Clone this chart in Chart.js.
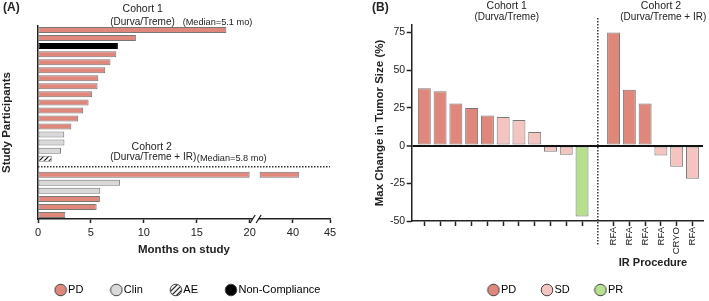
<!DOCTYPE html>
<html>
<head>
<meta charset="utf-8">
<script src="https://cdn.jsdelivr.net/npm/chart.js@4.4.0/dist/chart.umd.min.js"></script>
<style>
  html, body { margin: 0; padding: 0; background: #fff; overflow: hidden; }
  #wrapA { position: absolute; left: 0; top: 0; width: 340px; height: 301px; }
  #wrapB { position: absolute; left: 340px; top: 0; width: 369px; height: 301px; }
</style>
</head>
<body>
<div id="wrapA"><canvas id="chartA" width="340" height="301"></canvas></div>
<div id="wrapB"><canvas id="chartB" width="369" height="301"></canvas></div>
<script>
// ---- Panel A data: months on study, reason off study ----
const cohort1Months = [17.8, 9.25, 7.55, 7.4, 6.85, 6.35, 5.7, 5.63, 5.12, 4.78, 4.27, 3.8, 3.15, 2.48, 2.5, 2.17, 1.3];
const cohort1Reason = ['PD', 'PD', 'Non-Compliance', 'PD', 'PD', 'PD', 'PD', 'PD', 'PD', 'PD', 'PD', 'PD', 'PD', 'Clin', 'Clin', 'Clin', 'AE'];
const cohort2Months = [40.8, 7.74, 5.88, 5.85, 5.54, 2.58];
const cohort2Reason = ['PD', 'Clin', 'Clin', 'PD', 'PD', 'PD'];
const reasonNames = ['PD', 'Clin', 'AE', 'Non-Compliance'];
const monthTicks = [0, 5, 10, 15, 20, 40, 45];

// ---- Panel B data: max change in tumor size ----
const changeCohort1 = [38, 36, 28, 25, 20, 19, 17, 9, -4, -6, -47];
const responseCohort1 = ['PD', 'PD', 'PD', 'PD', 'PD', 'SD', 'SD', 'SD', 'SD', 'SD', 'PR'];
const changeCohort2 = [75, 37, 28, -6.5, -14, -22];
const responseCohort2 = ['PD', 'PD', 'PD', 'SD', 'SD', 'SD'];
const irProcedure = ['RFA', 'RFA', 'RFA', 'RFA', 'CRYO', 'RFA'];
const responseNames = ['PD', 'SD', 'PR'];
const changeTicks = [-50, -25, 0, 25, 50, 75];

const FONT = '"Liberation Sans", Arial, Helvetica, sans-serif';
Chart.defaults.font.family = FONT;
Chart.defaults.color = '#222';

const PD_RED = '#e0877c';
const BORDER = '#777';

// diagonal hatch for AE
const hatch = (() => {
    const c = document.createElement('canvas');
    c.width = 5; c.height = 5;
    const g = c.getContext('2d');
    g.fillStyle = '#fff';
    g.fillRect(0, 0, 5, 5);
    g.strokeStyle = '#111';
    g.lineWidth = 1.2;
    g.beginPath();
    g.moveTo(0, 5); g.lineTo(5, 0);
    g.moveTo(-1, 1); g.lineTo(1, -1);
    g.moveTo(4, 6); g.lineTo(6, 4);
    g.stroke();
    return g.createPattern(c, 'repeat');
})();

const reasonFill = { 'PD': PD_RED, 'Clin': '#d9d9d9', 'AE': hatch, 'Non-Compliance': '#000' };
const responseFill = { 'PD': PD_RED, 'SD': '#f4c4c1', 'PR': '#b6df8e' };

function legendDot(fill) {
    const c = document.createElement('canvas');
    c.width = 14; c.height = 14;
    const g = c.getContext('2d');
    g.beginPath();
    g.arc(7, 7, 5.8, 0, Math.PI * 2);
    g.fillStyle = fill;
    g.fill();
    g.lineWidth = 1;
    g.strokeStyle = '#444';
    g.stroke();
    return c;
}

// broken x axis: 0-20 at full scale, then 35.5-45 compressed
const breakAt = 20, resumeAt = 35.5, gapWidth = 0.94, upperScale = 0.7;
function toAxis(m) {
    return m <= breakAt ? m : breakAt + gapWidth + (m - resumeAt) * upperScale;
}

function text(ctx, str, x, y, size, bold, align) {
    ctx.save();
    ctx.font = (bold ? 'bold ' : '') + size + 'px ' + FONT;
    ctx.fillStyle = '#222';
    ctx.textAlign = align || 'center';
    ctx.textBaseline = 'middle';
    ctx.fillText(str, x, y);
    ctx.restore();
}

// legend A centred a bit right of the plot, room kept for the last item
const legendShift = {
    id: 'legendShift',
    afterLayout(chart) {
        const lg = chart.legend;
        if (!lg) return;
        lg.left = 10;
        lg.right = 369;
    }
};

// ================= Panel A =================
const rowMonths = [...cohort1Months, null, ...cohort2Months];
const rowReason = [...cohort1Reason, null, ...cohort2Reason];
const gapRow = cohort1Months.length;

const datasetsA = reasonNames.map(r => ({
    label: r,
    data: rowMonths.map((m, i) => rowReason[i] === r ? [0, toAxis(Math.min(m, breakAt))] : null),
    backgroundColor: reasonFill[r],
    borderColor: r === 'Non-Compliance' ? '#000' : BORDER,
    borderWidth: 1
}));
datasetsA.push({
    label: 'continued',
    data: rowMonths.map(m => m > breakAt ? [toAxis(resumeAt), toAxis(m)] : null),
    backgroundColor: rowReason.map(r => r ? reasonFill[r] : null),
    borderColor: BORDER,
    borderWidth: 1
});

const panelADecor = {
    id: 'panelADecor',
    afterDraw(chart) {
        const ctx = chart.ctx;
        const x = chart.scales.x, y = chart.scales.y;
        const area = chart.chartArea;
        // cohort separator
        ctx.save();
        ctx.strokeStyle = '#333';
        ctx.lineWidth = 1.5;
        ctx.setLineDash([1.5, 1.5]);
        const ySep = y.getPixelForValue(gapRow);
        ctx.beginPath();
        ctx.moveTo(area.left, ySep);
        ctx.lineTo(area.right, ySep);
        ctx.stroke();
        ctx.restore();
        // axis break
        const xa = x.getPixelForValue(breakAt) + 3;
        const xb = x.getPixelForValue(toAxis(resumeAt)) - 1;
        const yb = area.bottom;
        ctx.save();
        ctx.fillStyle = '#fff';
        ctx.fillRect(xa, yb - 2, xb - xa, 4);
        ctx.strokeStyle = '#222';
        ctx.lineWidth = 1.3;
        ctx.beginPath();
        [xa, xb].forEach(cx => {
            ctx.moveTo(cx - 2.5, yb + 4);
            ctx.lineTo(cx + 2.5, yb - 4);
        });
        ctx.stroke();
        ctx.restore();
        // labels
        text(ctx, '(A)', 3, 8, 12, true, 'left');
        text(ctx, 'Cohort 1', 142.7, 9, 10.5);
        text(ctx, '(Durva/Treme)', 142.5, 22, 10);
        text(ctx, '(Median=5.1 mo)', 217.5, 22.5, 9.2);
        text(ctx, 'Cohort 2', 151.7, 146.7, 10.5);
        text(ctx, '(Durva/Treme + IR)', 153.3, 157.5, 10);
        text(ctx, '(Median=5.8 mo)', 231.7, 158.5, 9.2);
    }
};

new Chart(document.getElementById('chartA'), {
    type: 'bar',
    data: { labels: rowMonths.map(() => ''), datasets: datasetsA },
    options: {
        indexAxis: 'y',
        responsive: false,
        animation: false,
        layout: { padding: { top: 26, right: 10, bottom: -4.5, left: 0 } },
        datasets: { bar: { grouped: false, barPercentage: 0.75, categoryPercentage: 1, borderSkipped: false } },
        plugins: {
            tooltip: { enabled: false },
            legend: {
                position: 'bottom',
                labels: {
                    usePointStyle: true,
                    boxWidth: 4,
                    padding: 31,
                    color: '#222',
                    font: { size: 11 },
                    generateLabels: () => reasonNames.map((r, i) => ({
                        text: r, pointStyle: legendDot(reasonFill[r]), fillStyle: reasonFill[r],
                        strokeStyle: '#444', lineWidth: 1, hidden: false, datasetIndex: i
                    }))
                }
            }
        },
        scales: {
            x: {
                type: 'linear',
                min: 0,
                max: toAxis(45),
                afterBuildTicks: axis => { axis.ticks = monthTicks.map(m => ({ value: toAxis(m) })); },
                afterFit: axis => { axis.height = 34.5; },
                ticks: { autoSkip: false, maxRotation: 0, padding: 3, font: { size: 11 }, callback: (v, i) => monthTicks[i] },
                grid: { drawOnChartArea: false, tickLength: 4, tickColor: '#222', tickWidth: 1.5 },
                border: { color: '#222', width: 1.5 },
                title: { display: true, text: 'Months on study', font: { size: 11.5, weight: 'bold' }, padding: { top: 0, bottom: -3.4 } }
            },
            y: {
                type: 'category',
                afterFit: axis => { axis.width = 38; },
                ticks: { display: false },
                grid: { drawOnChartArea: false, drawTicks: false },
                border: { color: '#222', width: 1.5 },
                title: { display: true, text: 'Study Participants', font: { size: 11.5, weight: 'bold' }, padding: { top: 0, bottom: 0 } }
            }
        }
    },
    plugins: [panelADecor, legendShift]
});

// ================= Panel B =================
const changes = [...changeCohort1, ...changeCohort2];
const responses = [...responseCohort1, ...responseCohort2];
const barPos = [...changeCohort1.map((_, i) => i), ...changeCohort2.map((_, i) => changeCohort1.length + 1 + i)];
const barLabels = [...changeCohort1.map(() => ''), ...irProcedure];
const gapPos = changeCohort1.length;
const cohort2Mid = (barPos[changeCohort1.length] + barPos[barPos.length - 1]) / 2;

const panelBDecor = {
    id: 'panelBDecor',
    afterDraw(chart) {
        const ctx = chart.ctx;
        const x = chart.scales.x;
        const area = chart.chartArea;
        const xSep = x.getPixelForValue(gapPos);
        ctx.save();
        ctx.strokeStyle = '#333';
        ctx.lineWidth = 1.5;
        ctx.setLineDash([1.5, 1.5]);
        ctx.beginPath();
        ctx.moveTo(xSep, area.top - 7);
        ctx.lineTo(xSep, area.bottom + 24);
        ctx.stroke();
        ctx.restore();
        text(ctx, '(B)', 32, 8, 12, true, 'left');
        text(ctx, 'Cohort 1', 166.7, 6, 10.5);
        text(ctx, '(Durva/Treme)', 166.7, 17.5, 10);
        text(ctx, 'Cohort 2', 321, 6, 10.5);
        text(ctx, '(Durva/Treme + IR)', 323.3, 17.5, 10);
        text(ctx, 'IR Procedure', x.getPixelForValue(cohort2Mid), 263, 11, true);
    }
};

new Chart(document.getElementById('chartB'), {
    type: 'bar',
    data: {
        datasets: [{
            label: 'Max change',
            data: barPos.map((p, i) => ({ x: p, y: changes[i] })),
            backgroundColor: responses.map(r => responseFill[r]),
            borderColor: BORDER,
            borderWidth: 1,
            borderSkipped: false,
            barPercentage: 0.82,
            categoryPercentage: 1
        }]
    },
    options: {
        responsive: false,
        animation: false,
        layout: { padding: { top: 25, right: 6, bottom: -4.5, left: 33 } },
        plugins: {
            tooltip: { enabled: false },
            legend: {
                position: 'bottom',
                fullSize: false,
                labels: {
                    usePointStyle: true,
                    boxWidth: 4,
                    padding: 28.7,
                    color: '#222',
                    font: { size: 11 },
                    generateLabels: () => responseNames.map(r => ({
                        text: r, pointStyle: legendDot(responseFill[r]), fillStyle: responseFill[r],
                        strokeStyle: '#444', lineWidth: 1, hidden: false, datasetIndex: 0
                    }))
                }
            }
        },
        scales: {
            x: {
                type: 'linear',
                min: -0.8,
                max: 17.67,
                offset: false,
                afterBuildTicks: axis => { axis.ticks = barPos.map(v => ({ value: v })); },
                afterFit: axis => { axis.height = 34.8; },
                ticks: { autoSkip: false, minRotation: 90, maxRotation: 90, padding: 1, font: { size: 9.5 }, callback: (v, i) => barLabels[i] },
                grid: { offset: false, drawOnChartArea: false, tickLength: 5, tickColor: '#222', tickWidth: 1.5 },
                border: { color: '#222', width: 1.5 }
            },
            y: {
                type: 'linear',
                min: -50,
                max: 80,
                afterBuildTicks: axis => { axis.ticks = changeTicks.map(v => ({ value: v })); },
                afterFit: axis => { axis.width = 38.7; },
                ticks: { padding: 1.5, font: { size: 10.5 } },
                grid: {
                    z: 1,
                    color: c => c.tick && c.tick.value === 0 ? '#111' : 'rgba(0,0,0,0)',
                    lineWidth: c => c.tick && c.tick.value === 0 ? 2 : 1,
                    tickColor: '#222',
                    tickLength: 5,
                    tickWidth: 1.5
                },
                border: { color: '#222', width: 1.5, z: 2 },
                title: { display: true, text: 'Max Change in Tumor Size (%)', font: { size: 11.5, weight: 'bold' }, padding: { top: 0, bottom: 0 } }
            }
        }
    },
    plugins: [panelBDecor]
});
</script>
</body>
</html>
